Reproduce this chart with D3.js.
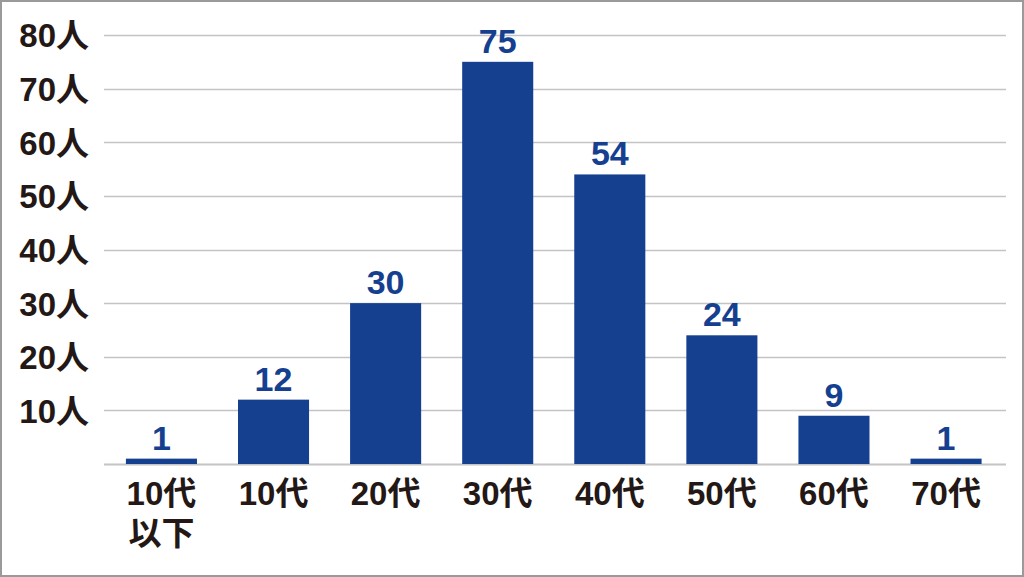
<!DOCTYPE html>
<html><head><meta charset="utf-8">
<script src="https://cdn.jsdelivr.net/npm/d3@7"></script>
<style>html,body{margin:0;padding:0;background:#fff;}svg{display:block;}</style>
</head><body>
<svg id="c" width="1024" height="577"></svg>
<script>
const categories = ["10代\n以下", "10代", "20代", "30代", "40代", "50代", "60代", "70代"];
const values = [1, 12, 30, 75, 54, 24, 9, 1];
const yTicks = [10, 20, 30, 40, 50, 60, 70, 80];
const yTickLabels = ["10人", "20人", "30人", "40人", "50人", "60人", "70人", "80人"];

const svg = d3.select("#c");
const W = 1024, H = 577;
const font = "'Liberation Sans','Noto Sans CJK JP',sans-serif";
const barColor = "#15408f";
const textColor = "#231815";

svg.append("rect").attr("x", 1).attr("y", 1).attr("width", W - 2).attr("height", H - 2)
  .attr("fill", "#fff").attr("stroke", "#9a9a9a").attr("stroke-width", 2);

const y = d3.scaleLinear().domain([0, 80]).range([464, 35]);
const x = d3.scaleBand().domain(categories).range([105.4, 1002.1]).paddingInner(0.366).paddingOuter(0.183);

// gridlines
const gridX0 = 104, gridX1 = 1006;
svg.append("g").selectAll("line").data([0].concat(yTicks)).join("line")
  .attr("x1", gridX0).attr("x2", gridX1)
  .attr("y1", d => Math.round(y(d)) + 0.5).attr("y2", d => Math.round(y(d)) + 0.5)
  .attr("stroke", "#c4c4c4").attr("stroke-width", d => d === 0 ? 2 : 1.5);

// y axis labels
const yAxis = d3.axisLeft(y).tickValues(yTicks).tickSize(0).tickPadding(0)
  .tickFormat((d, i) => yTickLabels[i]);
const ya = svg.append("g").attr("transform", "translate(89,0)").call(yAxis);
ya.select(".domain").remove();
ya.selectAll("text").attr("font-family", font).attr("font-size", 33)
  .attr("font-weight", "bold").attr("fill", textColor).attr("dy", "0.36em");

// bars
svg.append("g").selectAll("rect").data(values).join("rect")
  .attr("x", (d, i) => x(categories[i]))
  .attr("width", x.bandwidth())
  .attr("y", d => y(d))
  .attr("height", d => y(0) - y(d))
  .attr("fill", barColor);

// value labels
svg.append("g").selectAll("text").data(values).join("text")
  .attr("x", (d, i) => x(categories[i]) + x.bandwidth() / 2)
  .attr("y", d => y(d) - 9)
  .attr("text-anchor", "middle")
  .attr("font-family", font).attr("font-size", 34).attr("font-weight", "bold")
  .attr("fill", barColor)
  .text(d => d);

// x labels
const xl = svg.append("g").selectAll("text").data(categories).join("text")
  .attr("x", d => x(d) + x.bandwidth() / 2)
  .attr("y", 505)
  .attr("text-anchor", "middle")
  .attr("font-family", font).attr("font-size", 33).attr("font-weight", "bold")
  .attr("fill", textColor);
xl.each(function(d) {
  const lines = d.split("\n");
  d3.select(this).selectAll("tspan").data(lines).join("tspan")
    .attr("x", d3.select(this).attr("x"))
    .attr("dy", (l, i) => i === 0 ? 0 : 40)
    .text(l => l);
});
</script>
</body></html>
